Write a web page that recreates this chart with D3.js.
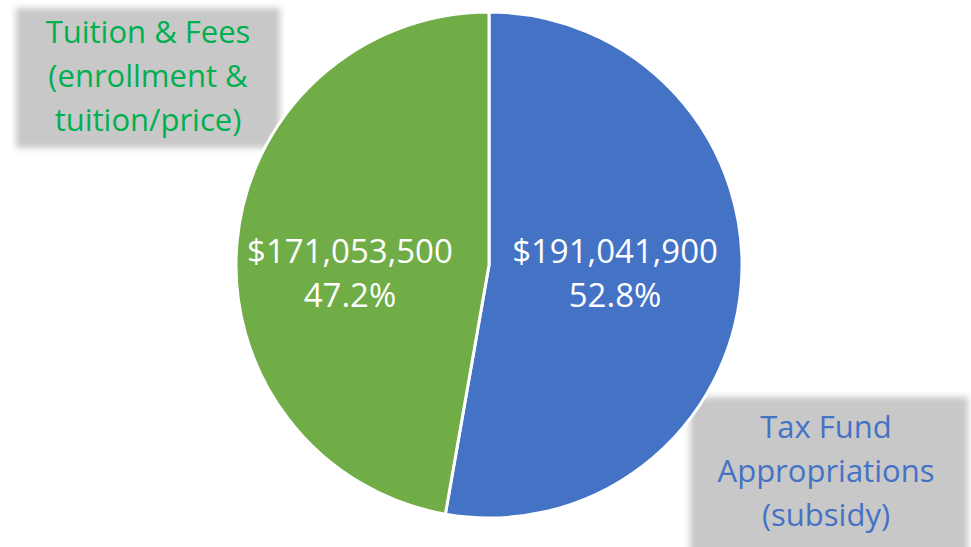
<!DOCTYPE html>
<html>
<head>
<meta charset="utf-8">
<script src="https://cdn.jsdelivr.net/npm/d3@7"></script>
<style>
  html, body { margin: 0; padding: 0; background: #fff; }
  svg { display: block; }
  text { font-family: "Open Sans", sans-serif; }
</style>
</head>
<body>
<div id="chart"></div>
<script>
// Chart data
const categories = ['Tax Fund Appropriations (subsidy)', 'Tuition & Fees (enrollment & tuition/price)'];
const values = [191041900, 171053500];
const percents = ['52.8%', '47.2%'];
const nameLines = [['Tax Fund', 'Appropriations', '(subsidy)'], ['Tuition & Fees', '(enrollment &', 'tuition/price)']];
const colors = ['#4472C4', '#70AD47'];
const nameColors = ['#4472C4', '#00B050'];

const width = 971, height = 547;
const cx = 489, cy = 265, radius = 253;

const svg = d3.select('#chart')
  .append('svg')
  .attr('width', width)
  .attr('height', height);

const defs = svg.append('defs');
const blur = defs.append('filter').attr('id', 'soft')
  .attr('x', '-10%').attr('y', '-10%').attr('width', '120%').attr('height', '120%');
blur.append('feGaussianBlur').attr('stdDeviation', 3);

// Gray callout boxes behind the category names
const boxes = [
  { x: 690, y: 397, w: 278, h: 160 },
  { x: 16, y: 8, w: 264, h: 140 }
];

svg.selectAll('rect.box')
  .data(boxes)
  .enter().append('rect')
  .attr('class', 'box')
  .attr('x', d => d.x)
  .attr('y', d => d.y)
  .attr('width', d => d.w)
  .attr('height', d => d.h)
  .attr('fill', '#c8c8c8')
  .attr('filter', 'url(#soft)');

const pie = d3.pie().sort(null).startAngle(0).endAngle(2 * Math.PI);
const arcs = pie(values);

const arc = d3.arc().innerRadius(0).outerRadius(radius);
const labelArc = d3.arc().innerRadius(radius * 0.5).outerRadius(radius * 0.5);

const g = svg.append('g').attr('transform', `translate(${cx},${cy})`);

g.selectAll('path')
  .data(arcs)
  .enter().append('path')
  .attr('d', arc)
  .attr('fill', (d, i) => colors[i])
  .attr('stroke', '#fff')
  .attr('stroke-width', 3)
  .attr('stroke-linejoin', 'round');

// Value labels inside the slices
const labelShift = [0, -13];
const vals = g.selectAll('text.val')
  .data(arcs)
  .enter().append('text')
  .attr('class', 'val')
  .attr('text-anchor', 'middle')
  .attr('fill', '#fff')
  .style('font-size', '33px')
  .attr('transform', (d, i) => {
    const c = labelArc.centroid(d);
    return `translate(${c[0] + labelShift[i]},22)`;
  });

vals.append('tspan')
  .attr('x', 0).attr('y', -24)
  .text(d => '$' + d3.format(',')(d.data));
vals.append('tspan')
  .attr('x', 0).attr('y', 20)
  .text((d, i) => percents[i]);

// Category names in the boxes
const nameAnchors = [[826, 438], [148, 43]];
nameLines.forEach((lines, i) => {
  const t = svg.append('text')
    .attr('text-anchor', 'middle')
    .attr('fill', nameColors[i])
    .style('font-size', '31px');
  lines.forEach((line, j) => {
    t.append('tspan')
      .attr('x', nameAnchors[i][0])
      .attr('y', nameAnchors[i][1] + j * 44)
      .text(line);
  });
});
</script>
</body>
</html>
